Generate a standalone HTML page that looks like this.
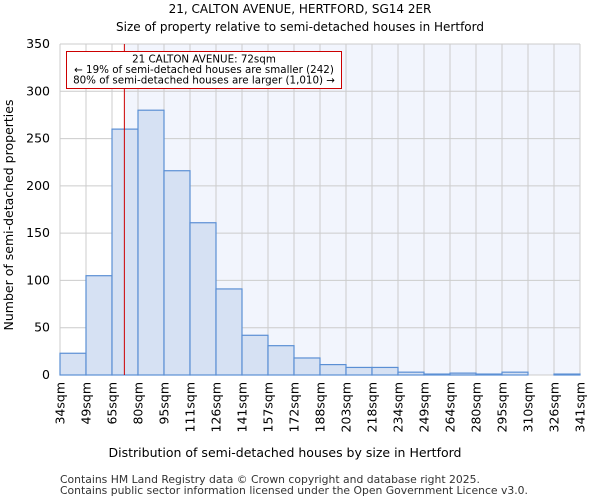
<!DOCTYPE html>
<html><head><meta charset="utf-8"><style>
body{margin:0;background:#fff;font-family:"DejaVu Sans","Liberation Sans",sans-serif;}
svg text{font-family:"DejaVu Sans","Liberation Sans",sans-serif;}
</style></head><body>
<svg id="c" width="600" height="500" viewBox="0 0 600 500" xmlns="http://www.w3.org/2000/svg">
<text x="300" y="13" text-anchor="middle" font-size="12">21, CALTON AVENUE, HERTFORD, SG14 2ER</text>
<text x="300" y="31" text-anchor="middle" font-size="12">Size of property relative to semi-detached houses in Hertford</text>
<g id="plot"></g>
<text x="285" y="457" text-anchor="middle" font-size="12.5">Distribution of semi-detached houses by size in Hertford</text>
<text transform="translate(13,215) rotate(-90)" text-anchor="middle" font-size="12.5">Number of semi-detached properties</text>
<text x="60" y="483" font-size="10.8" fill="#333">Contains HM Land Registry data © Crown copyright and database right 2025.</text>
<text x="60" y="494" font-size="10.8" fill="#333">Contains public sector information licensed under the Open Government Licence v3.0.</text>
</svg>
<script>
const categories=["34sqm","49sqm","65sqm","80sqm","95sqm","111sqm","126sqm","141sqm","157sqm","172sqm","188sqm","203sqm","218sqm","234sqm","249sqm","264sqm","280sqm","295sqm","310sqm","326sqm","341sqm"];
const counts=[23,105,260,280,216,161,91,42,31,18,11,8,8,3,1,2,1,3,0,1];
const yTicks=[0,50,100,150,200,250,300,350];
const binStart=34, binWidth=15.35, propertySize=72;
const L=60,R=580,T=44,B=375,yMax=350;
const NS="http://www.w3.org/2000/svg";
const g=document.getElementById('plot');
const xs=i=>L+(R-L)*i/counts.length;
const xv=v=>L+(v-binStart)/binWidth*(R-L)/counts.length;
const ys=v=>B-(B-T)*v/yMax;
function mk(t,a){const e=document.createElementNS(NS,t);for(const k in a)e.setAttribute(k,a[k]);g.appendChild(e);return e;}
const px=xv(propertySize);
let bg=mk('rect',{x:px,y:T,width:R-px,height:B-T,fill:'#f2f5fd'});


for(let i=0;i<categories.length;i++){const l=mk('line',{x1:xs(i),x2:xs(i),y1:T,y2:B,stroke:'#cccccc'});

}
yTicks.forEach(v=>{const l=mk('line',{x1:L,x2:R,y1:ys(v),y2:ys(v),stroke:'#cccccc'});


const t=mk('text',{x:L-10,y:ys(v)+4,'text-anchor':'end','font-size':'12.5'});t.textContent=v;

});
counts.forEach((c,i)=>{const r=mk('rect',{x:xs(i),y:ys(c),width:xs(i+1)-xs(i),height:B-ys(c),fill:'#d6e1f3',stroke:'#5b8fd4','stroke-width':1.2});

});
categories.forEach((c,i)=>{const t=mk('text',{transform:`translate(${xs(i)+4.5},382) rotate(-90)`,'text-anchor':'end','font-size':'12.5'});t.textContent=c;

});
const ml=mk('line',{x1:px,x2:px,y1:T,y2:B,stroke:'#cc0000','stroke-width':1});


const box=mk('rect',{x:66.5,y:51.5,width:275,height:37,fill:'#fff',stroke:'#cc0000'});


["21 CALTON AVENUE: 72sqm","← 19% of semi-detached houses are smaller (242)","80% of semi-detached houses are larger (1,010) →"].forEach((s,i)=>{const t=mk('text',{x:204,y:62.5+i*10.5,'text-anchor':'middle','font-size':'10.3'});t.textContent=s;

});
</script>
</body></html>
